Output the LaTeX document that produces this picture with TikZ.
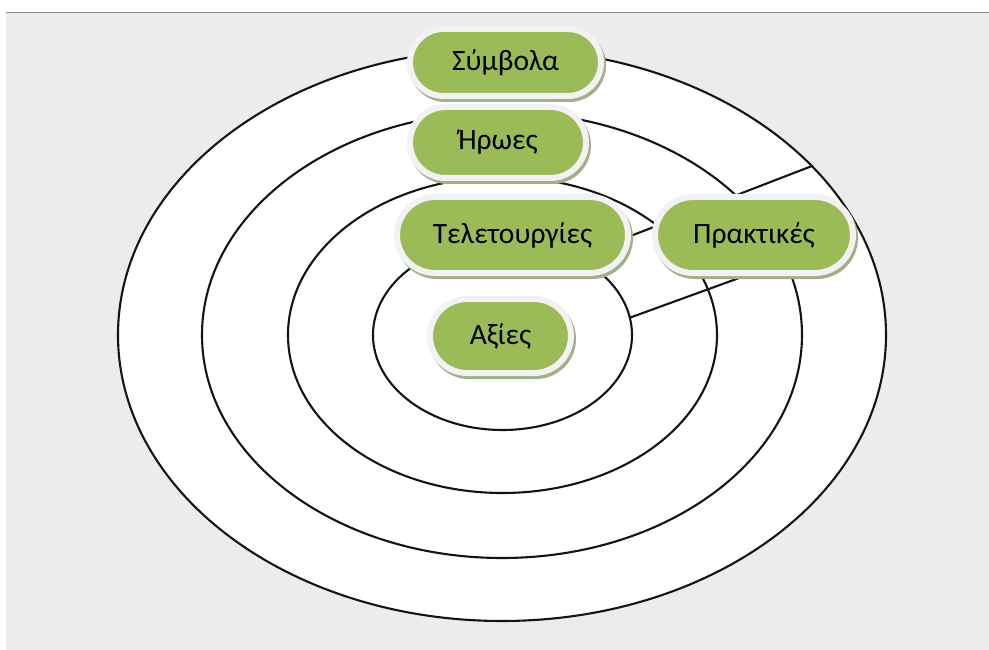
\documentclass[tikz,border=0pt]{standalone}
\usepackage{fontspec}
\setmainfont{Carlito}
\usetikzlibrary{shapes.misc,shadows}
\definecolor{leafgreen}{HTML}{9BBB59}
\definecolor{ringgray}{HTML}{F2F2F2}
\definecolor{shadegreen}{HTML}{A3AE8A}
\definecolor{pagegray}{HTML}{ECECEC}
\definecolor{rulegray}{HTML}{8C8C8C}
\definecolor{inkline}{HTML}{141414}

\begin{document}
\begin{tikzpicture}[x=1pt,y=-1pt,
  layer/.style={draw=inkline, line width=2.1pt, fill=white},
  band/.style={draw=inkline, line width=2.1pt},
  pill/.style={rounded rectangle, fill=leafgreen, draw=ringgray,
    line width=6pt, inner sep=0pt, text=black,
    font=\fontsize{29.5}{32}\selectfont,
    general shadow={shadow xshift=2pt, shadow yshift=-3pt,
      fill=shadegreen, draw=shadegreen, line width=6pt}}]

  % page and background panel
  \useasboundingbox (0,0) rectangle (989,650);
  \fill[white] (0,0) rectangle (989,650);
  \fill[pagegray] (6,13) rectangle (989,650);
  \draw[rulegray, line width=1.2pt] (6,12.6) -- (989,12.6);

  % concentric layers, outermost first
  \draw[layer] (502,335) ellipse [x radius=384pt, y radius=286pt];
  \draw[layer] (502,335) ellipse [x radius=300pt, y radius=223pt];
  \draw[layer] (502.5,335) ellipse [x radius=214.5pt, y radius=158pt];
  \draw[layer] (502.5,335) ellipse [x radius=129.5pt, y radius=95pt];

  % band marking the practices across the layers
  \coordinate (a1) at (812,166);
  \coordinate (a2) at (576,257);
  \coordinate (b1) at (629,318);
  \coordinate (b2) at (845,239.5);
  \draw[band] (a1) -- (a2);
  \draw[band] (b1) -- (b2);

  % labels
  \node[pill, minimum width=191pt, minimum height=67pt] (symb) at (505.5,62.5) {Σύμβολα};
  \node[pill, minimum width=176pt, minimum height=71pt] (hero) at (498,142.5) {Ήρωες};
  \node[pill, minimum width=231pt, minimum height=76pt] (rite) at (512.5,235) {Τελετουργίες};
  \node[pill, minimum width=198pt, minimum height=76pt] (prac) at (754,235) {Πρακτικές};
  \node[pill, minimum width=141pt, minimum height=74pt] (valu) at (500.5,336) {Αξίες};
\end{tikzpicture}
\end{document}
